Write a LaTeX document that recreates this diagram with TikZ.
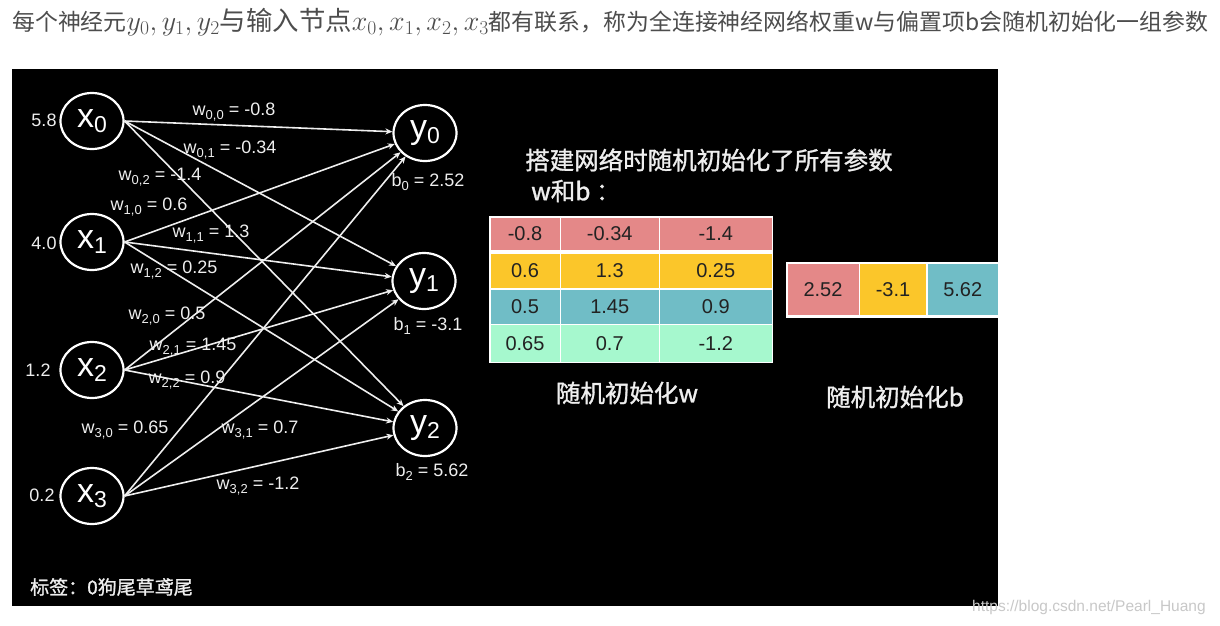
\RequirePackage{fix-cm}
\documentclass[tikz,border=0pt]{standalone}
\usepackage{fontspec}
\usetikzlibrary{shapes.geometric,arrows.meta}
\newfontfamily\arial{Liberation Sans}
\newfontfamily\cjk{Noto Sans CJK SC}
\newfontfamily\cjkb[FakeBold=1.2]{Noto Sans CJK SC}
\definecolor{topgray}{HTML}{4D4D4D}
\definecolor{lw}{HTML}{EEEEEE}
\definecolor{cpink}{HTML}{E48888}
\definecolor{cyel}{HTML}{FBC62A}
\definecolor{cteal}{HTML}{70BDC6}
\definecolor{cmint}{HTML}{A6F8CE}
\definecolor{wmark}{HTML}{C8C8C8}
\definecolor{celltext}{HTML}{222222}
\newcommand\mth[1]{{\fontsize{28}{28}\selectfont$#1$}}
\newcommand\nlab[2]{{\arial\fontsize{34}{34}\selectfont #1\raisebox{-5pt}{\fontsize{23}{23}\selectfont #2}}}
\newcommand\ws[1]{\raisebox{-4pt}{\fontsize{13}{13}\selectfont #1}}
\begin{document}
\begin{tikzpicture}[x=1pt,y=-1pt,
  neuron/.style={ellipse, draw=white, line width=2.2pt, minimum width=63pt, minimum height=56pt, inner sep=0pt, text=white},
  conn/.style={draw=lw, line width=1.6pt, -{Stealth[length=7pt,width=6pt]}},
  wlab/.style={text=lw, font=\arial\fontsize{18}{18}\selectfont, inner sep=0pt},
  cell/.style={inner sep=0pt, text=celltext, font=\arial\fontsize{20}{20}\selectfont},
  zhlab/.style={text=lw, inner sep=0pt, font=\cjkb\fontsize{24.5}{24.5}\selectfont}]
\path[use as bounding box] (0,0) rectangle (1220,626);
\fill[white] (0,0) rectangle (1220,626);
\fill[black] (12,69) rectangle (998,606);

% title line
\node[anchor=west, inner sep=0pt, text=topgray] (title) at (12,22)
 {\cjk\fontsize{22.9}{27}\selectfont 每个神经元\mth{y_0, y_1, y_2}{\fontsize{26.4}{27}\selectfont 与输入节点}\mth{x_0, x_1, x_2, x_3}都有联系，称为全连接神经网络权重w与偏置项b会随机初始化一组参数};

% neurons
\node[neuron] (x0) at (92,121) {\nlab{x}{0}};
\node[neuron] (x1) at (92,242) {\nlab{x}{1}};
\node[neuron] (x2) at (92,370) {\nlab{x}{2}};
\node[neuron] (x3) at (92,496) {\nlab{x}{3}};
\node[neuron] (y0) at (425,133) {\nlab{y}{0}};
\node[neuron] (y1) at (424,281) {\nlab{y}{1}};
\node[neuron] (y2) at (425,428) {\nlab{y}{2}};

% input values
\node[wlab] (v0) at (44,120) {5.8};
\node[wlab] (v1) at (44,243) {4.0};
\node[wlab] (v2) at (38,370) {1.2};
\node[wlab] (v3) at (42,495) {0.2};

% connections
\foreach \i in {0,...,3}
  \foreach \j in {0,1,2}
    \draw[conn] (x\i.east) -- (y\j);

% weight labels
\node[wlab] (l00) at (234,112) {w\ws{0,0} = -0.8};
\node[wlab] (l01) at (230,150) {w\ws{0,1} = -0.34};
\node[wlab] (l02) at (160,177) {w\ws{0,2} = -1.4};
\node[wlab] (l10) at (149,207) {w\ws{1,0} = 0.6};
\node[wlab] (l11) at (211,234) {w\ws{1,1} = 1.3};
\node[wlab] (l12) at (174,270) {w\ws{1,2} = 0.25};
\node[wlab] (l20) at (167,316) {w\ws{2,0} = 0.5};
\node[wlab] (l21) at (193,347) {w\ws{2,1} = 1.45};
\node[wlab] (l22) at (187,380) {w\ws{2,2} = 0.9};
\node[wlab] (l30) at (125,430) {w\ws{3,0} = 0.65};
\node[wlab] (l31) at (260,430) {w\ws{3,1} = 0.7};
\node[wlab] (l32) at (258,486) {w\ws{3,2} = -1.2};

% bias labels
\node[wlab] (b0) at (428,182) {b\ws{0} = 2.52};
\node[wlab] (b1) at (428,326) {b\ws{1} = -3.1};
\node[wlab] (b2) at (432,472) {b\ws{2} = 5.62};

% heading
\node[zhlab, anchor=west] (head1) at (525,160) {搭建网络时随机初始化了所有参数};
\node[zhlab, anchor=west] (head2) at (531,191) {w和b ：};

% weight table
\fill[white] (489,216) rectangle (773,363);
\node[cell, fill=cpink, minimum width=69pt, minimum height=32.5pt] (w00) at (525,233.75) {-0.8};
\node[cell, fill=cpink, minimum width=97.5pt, minimum height=32.5pt] (w01) at (609.75,233.75) {-0.34};
\node[cell, fill=cpink, minimum width=111.5pt, minimum height=32.5pt] (w02) at (715.75,233.75) {-1.4};
\node[cell, fill=cyel, minimum width=69pt, minimum height=34pt] (w10) at (525,271) {0.6};
\node[cell, fill=cyel, minimum width=97.5pt, minimum height=34pt] (w11) at (609.75,271) {1.3};
\node[cell, fill=cyel, minimum width=111.5pt, minimum height=34pt] (w12) at (715.75,271) {0.25};
\node[cell, fill=cteal, minimum width=69pt, minimum height=34pt] (w20) at (525,306.5) {0.5};
\node[cell, fill=cteal, minimum width=97.5pt, minimum height=34pt] (w21) at (609.75,306.5) {1.45};
\node[cell, fill=cteal, minimum width=111.5pt, minimum height=34pt] (w22) at (715.75,306.5) {0.9};
\node[cell, fill=cmint, minimum width=69pt, minimum height=36.5pt] (w30) at (525,343.25) {0.65};
\node[cell, fill=cmint, minimum width=97.5pt, minimum height=36.5pt] (w31) at (609.75,343.25) {0.7};
\node[cell, fill=cmint, minimum width=111.5pt, minimum height=36.5pt] (w32) at (715.75,343.25) {-1.2};

% bias table
\fill[white] (786,262) rectangle (998,318);
\node[cell, fill=cpink, minimum width=71pt, minimum height=51.5pt] (bb0) at (823,289.25) {2.52};
\node[cell, fill=cyel, minimum width=66pt, minimum height=51.5pt] (bb1) at (893,289.25) {-3.1};
\node[cell, fill=cteal, minimum width=70.5pt, minimum height=51.5pt] (bb2) at (962.75,289.25) {5.62};

% captions
\node[zhlab] (capw) at (627,393) {随机初始化w};
\node[zhlab] (capb) at (895,397) {随机初始化b};
\node[text=lw, inner sep=0pt, anchor=west, font=\cjkb\fontsize{19}{19}\selectfont] (tag) at (30,587) {标签：0狗尾草鸢尾};

% watermark
\node[text=wmark, inner sep=0pt, anchor=west, font=\arial\fontsize{15.5}{15.5}\selectfont] (wm) at (972,607) {https://blog.csdn.net/Pearl\_Huang};
\end{tikzpicture}
\end{document}
